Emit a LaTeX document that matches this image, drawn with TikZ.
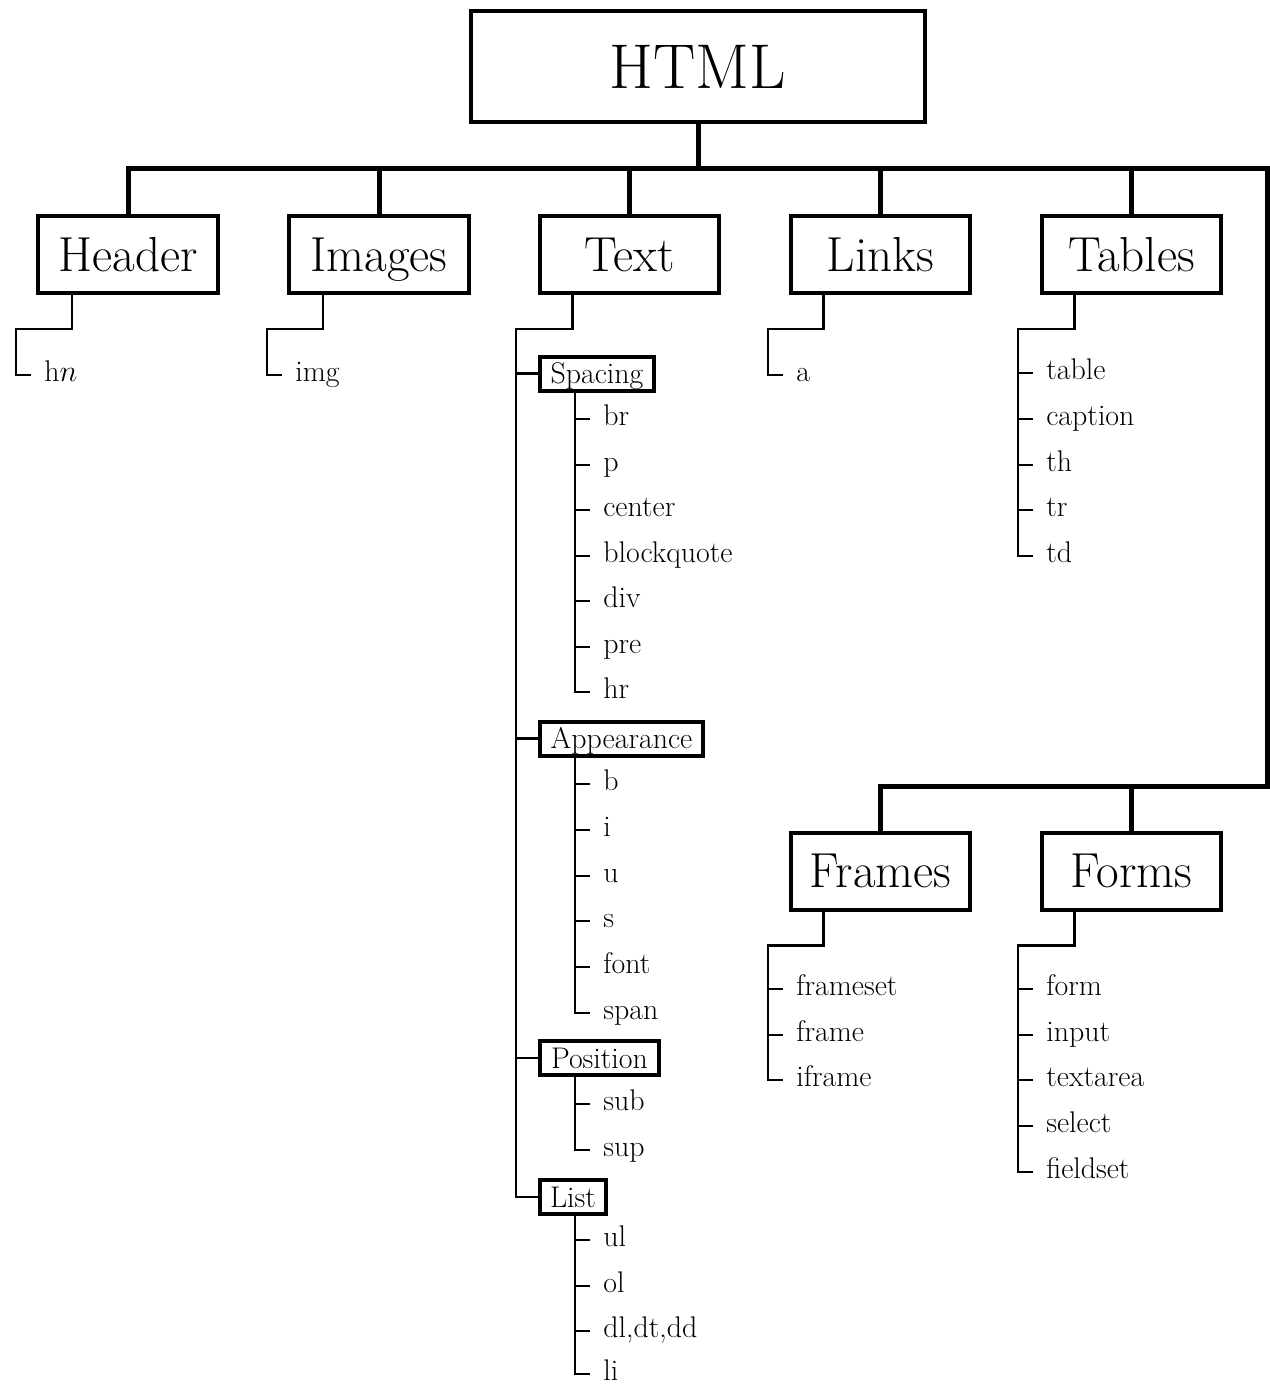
\documentclass[tikz,border=0pt]{standalone}
\usetikzlibrary{calc}
\begin{document}
\begin{tikzpicture}[x=0.02cm,y=-0.02cm,
  bus/.style={line width=0.1cm, line join=miter},
  twig/.style={line width=0.055cm, line join=miter},
  rootbox/.style={draw, line width=0.08cm, minimum width=9.08cm, minimum height=2.22cm,
    inner sep=0pt, font=\fontsize{36}{40}\selectfont, text height=24.5pt, text depth=0pt},
  topicbox/.style={draw, line width=0.08cm, minimum width=3.6cm, minimum height=1.54cm,
    inner sep=0pt, font=\fontsize{28}{32}\selectfont, text height=19.1pt, text depth=0pt},
  groupbox/.style={draw, line width=0.08cm, minimum height=0.68cm, inner sep=0pt,
    anchor=west, font=\fontsize{17}{20}\selectfont, text height=11.6pt, text depth=0pt},
  tag/.style={anchor=west, inner sep=0pt, font=\fontsize{17}{20}\selectfont,
    text height=7.3pt, text depth=0pt},
]
\useasboundingbox (0,0) rectangle (1269,1384);

% root and first-level topics
\node[rootbox] (html) at (698,66.5) {HTML};
\node[topicbox] (header)  at (128,254.5)   {Header};
\node[topicbox] (images)  at (379,254.5)   {Images};
\node[topicbox] (textgrp) at (629.5,254.5) {Text};
\node[topicbox] (links)   at (880.5,254.5) {Links};
\node[topicbox] (tables)  at (1131.5,254.5) {Tables};
\node[topicbox] (frames)  at (880.5,871)   {Frames};
\node[topicbox] (forms)   at (1131.5,871)  {Forms};

% main bus
\coordinate (busNE) at (1267,168);
\coordinate (busSE) at (1267,786);
\draw[bus] (html.south) -- (html.south |- busNE);
\draw[bus] (header.north) |- (busNE) -- (busSE) -| (frames.north);
\foreach \n in {images,textgrp,links,tables}
  \draw[bus] (\n.north) -- (\n.north |- busNE);
\draw[bus] (forms.north) -- (forms.north |- busSE);

% text sub-groups
\node[groupbox, minimum width=2.28cm] (spacing)    at (538,373.5) {Spacing};
\node[groupbox, minimum width=3.26cm] (appearance) at (538,738.5) {Appearance};
\node[groupbox, minimum width=2.38cm] (position)   at (538,1058)  {Position};
\node[groupbox, minimum width=1.32cm] (list)       at (538,1197)  {List};

% single tags
\node[tag] (hn)  at (44,375)  {h$n$};
\node[tag] (img) at (295,375) {img};
\node[tag] (a)   at (796,375) {a};

% tag lists
\foreach \n/\y/\t in {br/419/br, p/465/p, center/510/center, blockquote/556/blockquote,
    div/601/div, pre/647/pre, hr/692/hr,
    b/784/b, i/830/i, u/876/u, s/921/s, font/967/font, span/1013/span,
    sub/1104/sub, sup/1150/sup,
    ul/1240/ul, ol/1286/ol, dl/1331/{dl,dt,dd}, li/1374/li}
  \node[tag] (\n) at (603,\y) {\t};
\foreach \n/\y in {table/373, caption/419, th/465, tr/510, td/556,
    form/989, input/1035, textarea/1080, select/1126, fieldset/1172}
  \node[tag] (\n) at (1046,\y) {\n};
\foreach \n/\y in {frameset/989, frame/1035, iframe/1080}
  \node[tag] (\n) at (796,\y) {\n};

% stepped branches ending in a single corner
\draw[twig] ($(header.south west)+(36,0)$) -- ++(0,34) -| ($(hn.west)+(-28,0)$) -- ($(hn.west)+(-13,0)$);
\draw[twig] ($(images.south west)+(36,0)$) -- ++(0,34) -| ($(img.west)+(-28,0)$) -- ($(img.west)+(-13,0)$);
\draw[twig] ($(links.south west)+(35,0)$) -- ++(0,34) -| ($(a.west)+(-28,0)$) -- ($(a.west)+(-13,0)$);
\draw[twig] ($(tables.south west)+(35,0)$) -- ++(0,34) -| ($(td.west)+(-28,0)$) -- ($(td.west)+(-13,0)$);
\draw[twig] ($(frames.south west)+(35,0)$) -- ++(0,34) -| ($(iframe.west)+(-28,0)$) -- ($(iframe.west)+(-13,0)$);
\draw[twig] ($(forms.south west)+(35,0)$) -- ++(0,34) -| ($(fieldset.west)+(-28,0)$) -- ($(fieldset.west)+(-13,0)$);

% text spine to its sub-groups
\draw[twig] ($(textgrp.south west)+(35,0)$) -- ++(0,34) -| ($(list.west)+(-22,0)$) -- (list.west);
\foreach \g in {spacing,appearance,position}
  \draw[twig] ($(\g.west)+(-22,0)$) -- (\g.west);

% sub-group spines
\draw[twig] ($(spacing.south west)+(37,0)$) |- ($(hr.west)+(-13,0)$);
\draw[twig] ($(appearance.south west)+(37,0)$) |- ($(span.west)+(-13,0)$);
\draw[twig] ($(position.south west)+(37,0)$) |- ($(sup.west)+(-13,0)$);
\draw[twig] ($(list.south west)+(37,0)$) |- ($(li.west)+(-13,0)$);

% ticks for the other tags
\foreach \n in {br,p,center,blockquote,div,pre, b,i,u,s,font, sub, ul,ol,dl,
    table,caption,th,tr, frameset,frame, form,input,textarea,select}
  \draw[twig] ($(\n.west)+(-28,0)$) -- ++(15,0);
\end{tikzpicture}
\end{document}
